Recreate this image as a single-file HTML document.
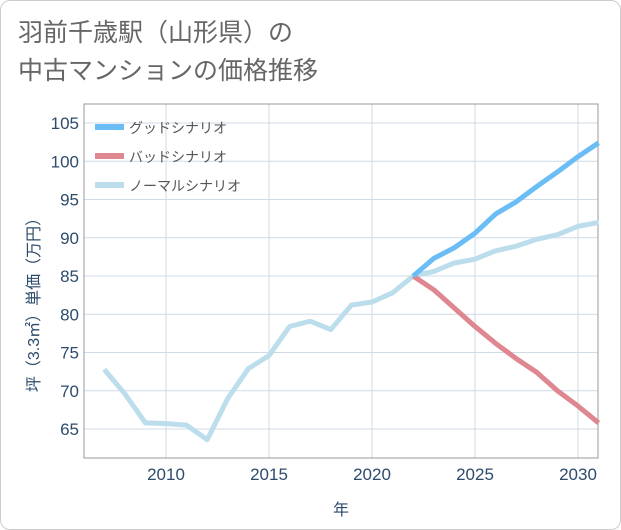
<!DOCTYPE html>
<html><head><meta charset="utf-8"><style>
body{margin:0;background:#fff;font-family:"Liberation Sans","Noto Sans CJK JP",sans-serif;}
#wrap{position:relative;width:619px;height:528px;border:1px solid #ccc;border-radius:10px;overflow:hidden;background:#fff}
</style></head><body>
<div id="wrap">
<svg id="c" width="621" height="530"></svg>
</div>
<script>
const years=[2007,2008,2009,2010,2011,2012,2013,2014,2015,2016,2017,2018,2019,2020,2021,2022,2023,2024,2025,2026,2027,2028,2029,2030,2031];
const normal=[72.8,69.6,65.8,65.7,65.5,63.6,69,72.9,74.6,78.4,79.1,78,81.2,81.6,82.8,85,85.6,86.7,87.2,88.3,88.9,89.8,90.4,91.5,92];
const fYears=[2022,2023,2024,2025,2026,2027,2028,2029,2030,2031];
const good=[85,87.3,88.7,90.6,93.1,94.7,96.7,98.6,100.6,102.4];
const bad=[85,83.2,80.8,78.4,76.2,74.2,72.4,70,68,65.8];
const xTicks=[2010,2015,2020,2025,2030];
const yTicks=[65,70,75,80,85,90,95,100,105];
const ns="http://www.w3.org/2000/svg",svg=document.getElementById('c');
const L=83,R=597,T=103,B=457;
const x=v=>165+(v-2010)*20.6, y=v=>428-(v-65)*7.65;
function el(t,a,p){const e=document.createElementNS(ns,t);for(const k in a)e.setAttribute(k,a[k]);(p||svg).appendChild(e);return e;}
function txt(s,a){const e=el('text',a);e.textContent=s;return e;}
const t1=txt('羽前千歳駅（山形県）の',{x:17,y:40,'font-size':25,fill:'#666'});

const t2=txt('中古マンションの価格推移',{x:17,y:78,'font-size':25,fill:'#666'});

xTicks.forEach(v=>{const l=el('line',{x1:x(v),x2:x(v),y1:T,y2:B,stroke:'#cfdbe7','stroke-width':1});});
yTicks.forEach(v=>{const l=el('line',{x1:L,x2:R,y1:y(v),y2:y(v),stroke:'#cfdbe7','stroke-width':1});});
const box=el('rect',{x:L,y:T,width:R-L,height:B-T,fill:'none',stroke:'#999'});
xTicks.forEach(v=>{const e=txt(v,{x:x(v),y:479,'text-anchor':'middle','font-size':17,fill:'#2d4b6b'});});
yTicks.forEach(v=>{const e=txt(v,{x:78,y:y(v)+6,'text-anchor':'end','font-size':17,fill:'#2d4b6b'});});
const xt=txt('年',{x:340,y:514,'text-anchor':'middle','font-size':16,fill:'#2d4b6b'});
const yt=txt('坪（3.3㎡）単価（万円）',{x:0,y:0,'text-anchor':'middle','font-size':16,fill:'#2d4b6b',transform:'translate(38,300) rotate(-90)'});
function line(xs,vs,c,n){const p=el('polyline',{points:xs.map((a,i)=>x(a)+','+y(vs[i])).join(' '),fill:'none',stroke:c,'stroke-width':5,'stroke-linejoin':'round'});}
line(years,normal,'#bcdeec','normal-line');
line(fYears,bad,'#de8790','bad-line');
line(fYears,good,'#6bbdf5','good-line');
[['グッドシナリオ','#6bbdf5'],['バッドシナリオ','#de8790'],['ノーマルシナリオ','#bcdeec']].forEach((d,i)=>{
const g=el('g',{});
el('rect',{x:94,y:123+i*29,width:29,height:6,fill:d[1]},g);
const t=el('text',{x:128,y:132+i*29,'font-size':14,fill:'#555'},g);t.textContent=d[0];});
</script>
</body></html>
